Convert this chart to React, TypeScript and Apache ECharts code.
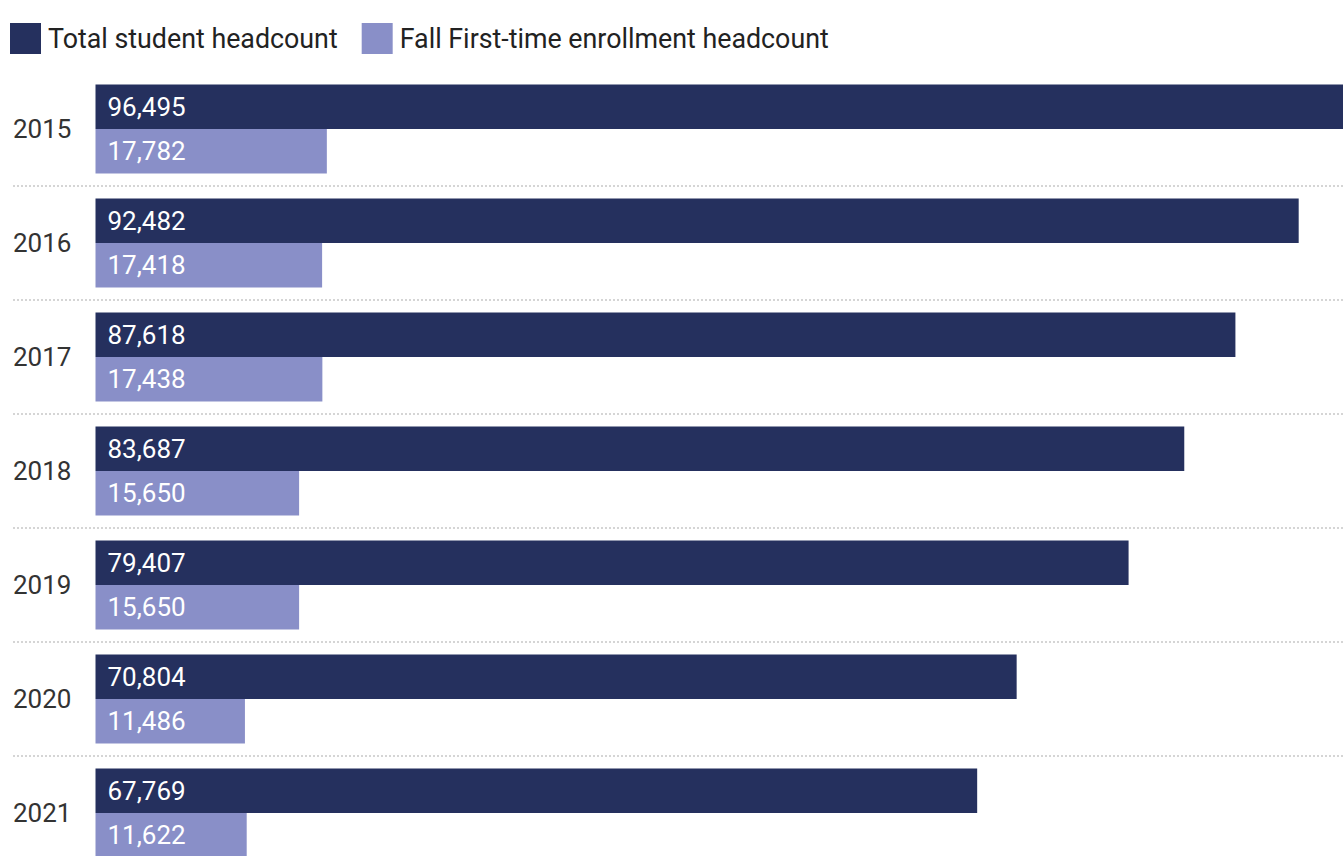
import React, { useEffect, useRef } from "react";
import * as echarts from "echarts";

const years = ["2015", "2016", "2017", "2018", "2019", "2020", "2021"];
const totalHeadcount = [96495, 92482, 87618, 83687, 79407, 70804, 67769];
const firstTimeHeadcount = [17782, 17418, 17438, 15650, 15650, 11486, 11622];
const seriesNames = ["Total student headcount", "Fall First-time enrollment headcount"];

const DARK = "#25305E";
const LIGHT = "#898FC8";
const FONT = "Roboto";

export default function App() {
  const ref = useRef<HTMLDivElement>(null);
  useEffect(() => {
    if (!ref.current) return;
    const chart = echarts.init(ref.current, null, { renderer: "svg" });
    const fmt = (p: any) => Number(p.value).toLocaleString("en-US");
    chart.setOption({
      animation: false,
      legend: {
        left: 10,
        top: 23,
        padding: 0,
        itemWidth: 31,
        itemHeight: 31,
        itemGap: 24,
        icon: "rect",
        textStyle: { fontFamily: FONT, fontSize: 26.8, color: "#222", padding: [0, 0, 0, 2] },
        data: seriesNames,
      },
      grid: [
        { left: 95.5, width: 1255.4, top: 72, height: 798, outerBoundsMode: "none", containLabel: false },
        { left: 13, width: 1330, top: 72, height: 798, outerBoundsMode: "none", containLabel: false },
      ],
      xAxis: [
        { type: "value", gridIndex: 0, min: 0, max: 96495, show: false },
        { type: "value", gridIndex: 1, min: 0, max: 1, show: false },
      ],
      yAxis: [
        {
          type: "category",
          gridIndex: 0,
          data: years,
          inverse: true,
          axisLine: { show: false },
          axisTick: { show: false },
          splitLine: { show: false },
          axisLabel: {
            margin: 82.5,
            align: "left",
            fontFamily: FONT,
            fontSize: 26,
            color: "#333",
          },
        },
        {
          type: "category",
          gridIndex: 1,
          data: years,
          inverse: true,
          axisLine: { show: false },
          axisTick: { show: false },
          axisLabel: { show: false },
          splitLine: {
            show: true,
            showMinLine: false,
            lineStyle: { color: "#c8c8c8", width: 1.5, type: [2, 2] },
          },
        },
      ],
      series: [
        {
          name: seriesNames[0],
          type: "bar",
          xAxisIndex: 0,
          yAxisIndex: 0,
          data: totalHeadcount,
          barWidth: 44.5,
          barGap: "0%",
          itemStyle: { color: DARK },
          label: {
            show: true,
            position: "insideLeft",
            distance: 12,
            formatter: fmt,
            color: "#fff",
            fontFamily: FONT,
            fontSize: 26,
          },
        },
        {
          name: seriesNames[1],
          type: "bar",
          xAxisIndex: 0,
          yAxisIndex: 0,
          data: firstTimeHeadcount,
          barWidth: 44.5,
          barGap: "0%",
          itemStyle: { color: LIGHT },
          label: {
            show: true,
            position: "insideLeft",
            distance: 12,
            formatter: fmt,
            color: "#fff",
            fontFamily: FONT,
            fontSize: 26,
          },
        },
      ],
    });
    return () => chart.dispose();
  }, []);
  return (
    <div
      ref={ref}
      style={{ position: "absolute", left: 0, top: 0, width: 1343, height: 856, background: "#fff" }}
    />
  );
}
